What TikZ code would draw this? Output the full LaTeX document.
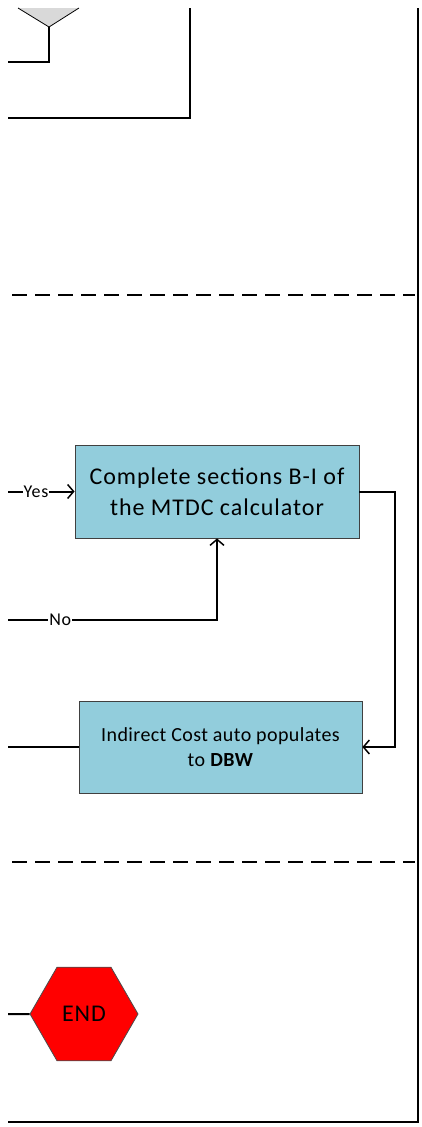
\documentclass[tikz,border=0pt]{standalone}
\usepackage{fontspec}
\setmainfont{Carlito}
\usetikzlibrary{shapes.geometric,arrows.meta}
\definecolor{taskblue}{HTML}{92CDDC}
\definecolor{mergegray}{HTML}{D9D9D9}
\tikzset{
  flow/.style={line width=2pt},
  openarrow/.style={-{Straight Barb[length=6pt,width=14pt,line width=1.5pt]}},
  lane/.style={line width=1.5pt,dash pattern=on 15pt off 8pt},
  task/.style={draw=black!75,line width=0.8pt,fill=taskblue,align=center,inner sep=2pt},
  endhex/.style={regular polygon,regular polygon sides=6,draw=black!70,line width=0.8pt,
    fill=red,minimum size=108pt,inner sep=0pt,
    font=\fontsize{24}{28}\selectfont\addfontfeatures{LetterSpace=4}},
  answer/.style={fill=white,inner sep=1pt,
    font=\fontsize{18}{20}\selectfont\addfontfeatures{LetterSpace=4}}
}
\begin{document}
\begin{tikzpicture}[x=1pt,y=-1pt]
\useasboundingbox (0,0) rectangle (421,1127);

% top of the column (cut off)
\fill[mergegray] (18,8) -- (79,8) -- (49,27) -- cycle;
\draw[line width=0.8pt] (18,8) -- (49,27) -- (79,8);
\coordinate (merge) at (49,27);
\coordinate (mergeout) at (8,62);
\draw[flow] (merge) |- (mergeout);

\coordinate (backtop) at (190,8);
\coordinate (backout) at (8,118);
\draw[flow] (backtop) |- (backout);

% lane frame
\coordinate (frametop) at (418,8);
\coordinate (framebot) at (8,1122);
\draw[line width=2.4pt] (framebot) -| (frametop);

\coordinate (laneAl) at (12,295);
\coordinate (laneAr) at (415,295);
\coordinate (laneBl) at (12,862);
\coordinate (laneBr) at (415,862);
\draw[lane] (laneAl) -- (laneAr);
\draw[lane] (laneBl) -- (laneBr);

% tasks
\node[task,minimum width=284pt,minimum height=93pt,
  font=\fontsize{24}{31}\selectfont\addfontfeatures{LetterSpace=4}] (calc) at (217,491.5)
  {Complete sections B-I of\\the MTDC calculator};
\node[task,minimum width=283pt,minimum height=92pt,
  font=\fontsize{20}{25}\selectfont\addfontfeatures{LetterSpace=2}] (dbw) at (220.5,747)
  {Indirect Cost auto populates\\to \textbf{DBW}};
\node[endhex] (end) at (84,1014) {END};

% connectors
\coordinate (yesin) at (8,491.5);
\coordinate (noin) at (8,620);
\coordinate (dbwout) at (8,747);
\coordinate (endin) at (8,1014);

\draw[flow,openarrow] (yesin) -- node[answer,pos=0.42]{Yes} (calc.west);
\draw[flow,openarrow] (noin) -| node[answer,pos=0.125]{No} (calc.south);
\draw[flow,openarrow] (calc.east) -- ++(36,0) |- (dbw.east);
\draw[flow] (dbw.west) -- (dbwout);
\draw[flow] (endin) -- (end);

\end{tikzpicture}
\end{document}
